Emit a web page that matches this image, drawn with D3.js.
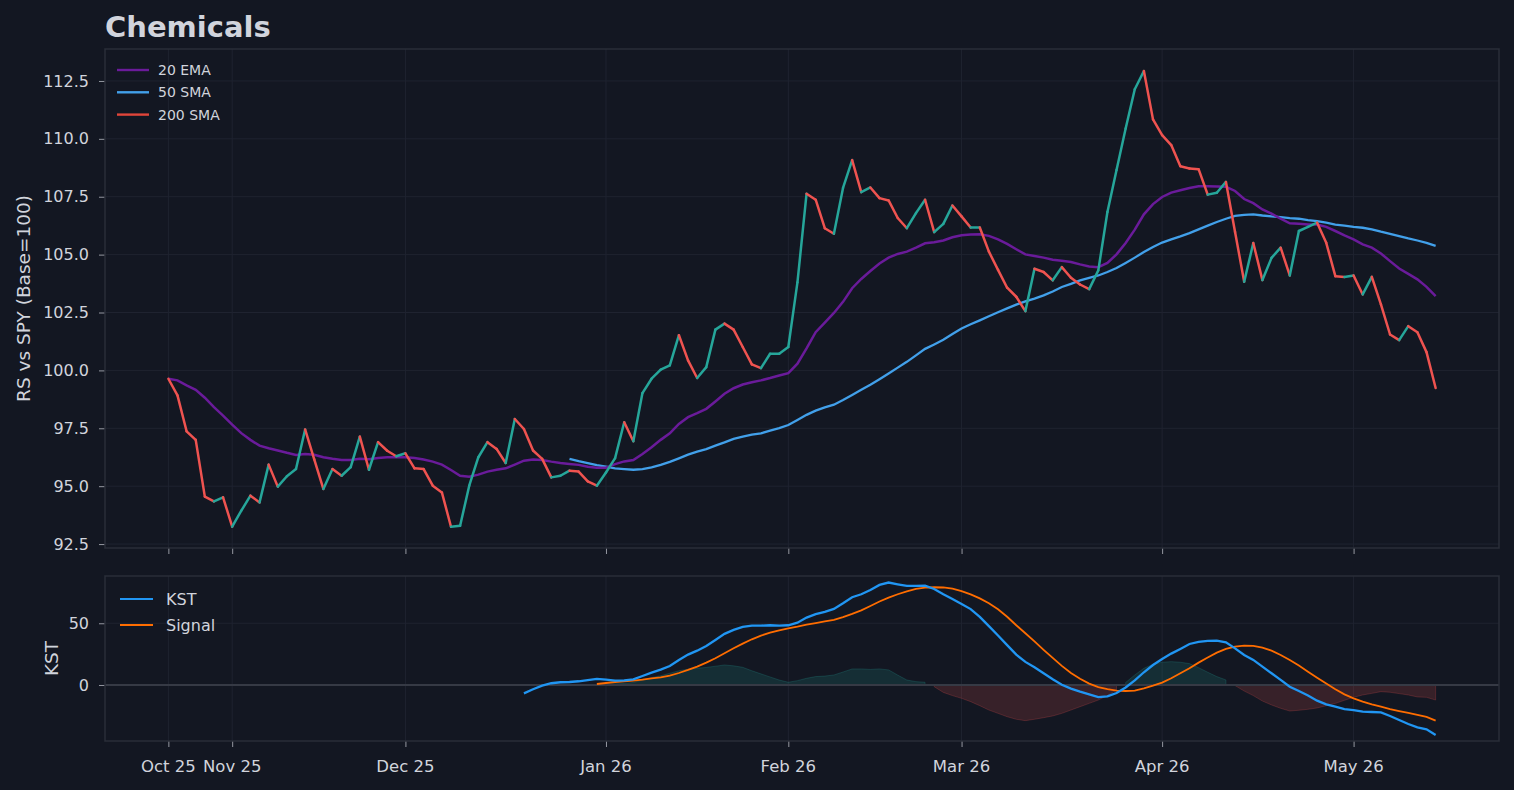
<!DOCTYPE html>
<html>
<head>
<meta charset="utf-8">
<script src="https://cdn.jsdelivr.net/npm/d3@7"></script>
<style>
  html, body { margin: 0; padding: 0; background: #131722; }
  svg { display: block; font-family: "DejaVu Sans", sans-serif; }
</style>
</head>
<body>
<div id="chart"></div>
<script>
// Relative strength vs SPY, one value per trading day (index 0 = first bar)
const rs = [
  99.64, 98.92, 97.37, 97.0, 94.55, 94.34, 94.52, 93.25, 93.94, 94.59,
  94.3, 95.93, 94.98, 95.43, 95.74, 97.45, 96.16, 94.88, 95.74, 95.45,
  95.82, 97.14, 95.71, 96.9, 96.53, 96.29, 96.42, 95.77, 95.74, 95.02,
  94.73, 93.25, 93.29, 95.02, 96.25, 96.9, 96.61, 96.0, 97.9, 97.47,
  96.54, 96.18, 95.38, 95.45, 95.67, 95.63, 95.21, 95.02, 95.59, 96.21,
  97.76, 96.94, 99.02, 99.64, 100.03, 100.22, 101.52, 100.43, 99.67, 100.14,
  101.76, 102.02, 101.76, 101.01, 100.26, 100.1, 100.72, 100.72, 101.01, 103.8,
  107.63, 107.37, 106.14, 105.9, 107.88, 109.08, 107.7, 107.9, 107.44, 107.34,
  106.58, 106.14, 106.79, 107.37, 105.97, 106.33, 107.12, 106.65, 106.17, 106.17,
  105.13, 104.34, 103.57, 103.18, 102.56, 104.39, 104.25, 103.89, 104.46, 104.0,
  103.71, 103.51, 104.32, 106.84, 108.65, 110.45, 112.14, 112.93, 110.84, 110.16,
  109.73, 108.82, 108.72, 108.69, 107.59, 107.67, 108.14, 105.98, 103.83, 105.5,
  103.9, 104.86, 105.3, 104.1, 106.02, 106.2, 106.38, 105.51, 104.07, 104.03,
  104.1, 103.28, 104.04, 102.85, 101.55, 101.31, 101.91, 101.65, 100.79, 99.24
];

const ema20 = [
  99.64, 99.57, 99.35, 99.16, 98.82, 98.41, 98.05, 97.66, 97.29, 97.0,
  96.75, 96.64, 96.54, 96.44, 96.35, 96.39, 96.36, 96.25, 96.18, 96.13,
  96.13, 96.18, 96.16, 96.22, 96.25, 96.25, 96.25, 96.22, 96.15, 96.06,
  95.93, 95.7, 95.45, 95.41, 95.5, 95.63, 95.71, 95.77, 95.93, 96.1,
  96.15, 96.13, 96.06, 96.0, 95.96, 95.92, 95.84, 95.8, 95.8, 95.95,
  96.07, 96.13, 96.39, 96.68, 97.0, 97.28, 97.69, 97.98, 98.15, 98.34,
  98.66, 98.99, 99.23, 99.39, 99.49, 99.57, 99.67, 99.78, 99.88, 100.29,
  100.95, 101.65, 102.06, 102.48, 102.96, 103.55, 103.95, 104.29, 104.62, 104.87,
  105.03, 105.13, 105.3, 105.49, 105.53, 105.61, 105.75, 105.84, 105.87, 105.88,
  105.81, 105.66, 105.46, 105.23, 105.01, 104.94, 104.87, 104.78, 104.74, 104.68,
  104.58, 104.49, 104.46, 104.64, 105.01, 105.5, 106.08, 106.74, 107.18, 107.49,
  107.68, 107.78, 107.88, 107.95, 107.95, 107.94, 107.93, 107.75, 107.4, 107.22,
  106.95, 106.77, 106.55, 106.35, 106.33, 106.3, 106.3, 106.2, 106.02, 105.83,
  105.66, 105.44, 105.3, 105.05, 104.72, 104.4, 104.17, 103.93, 103.61, 103.21
];

// 50 SMA starts at bar 44
const sma50Start = 44;
const sma50 = [
  96.18, 96.08, 96.0, 95.91, 95.84, 95.77, 95.74, 95.71, 95.74, 95.81,
  95.92, 96.05, 96.2, 96.36, 96.49, 96.6, 96.75, 96.89, 97.04, 97.14,
  97.23, 97.28, 97.4, 97.51, 97.64, 97.86, 98.08, 98.26, 98.4, 98.52,
  98.72, 98.94, 99.16, 99.38, 99.62, 99.87, 100.12, 100.37, 100.65, 100.93,
  101.12, 101.32, 101.57, 101.81, 101.99, 102.16, 102.34, 102.51, 102.68, 102.84,
  102.98, 103.1, 103.24, 103.41, 103.6, 103.74, 103.89, 104.0, 104.1, 104.25,
  104.42, 104.64, 104.87, 105.11, 105.33, 105.52, 105.66, 105.79, 105.93, 106.09,
  106.25, 106.41, 106.55, 106.67, 106.72, 106.74, 106.69, 106.65, 106.62, 106.58,
  106.55, 106.49, 106.45, 106.38, 106.3, 106.25, 106.2, 106.16, 106.09, 105.99,
  105.9, 105.8, 105.7, 105.61, 105.51, 105.38
];

// KST starts at bar 39
const kstStart = 39;
const kst = [
  -6.8, -3.5, -0.5, 1.4, 2.2, 2.4, 3.0, 4.0, 4.9, 4.3,
  3.5, 3.8, 4.6, 7.3, 10.0, 12.4, 15.4, 20.3, 24.6, 27.8,
  31.6, 36.5, 41.4, 44.6, 47.0, 48.1, 48.1, 48.4, 48.1, 48.4,
  50.5, 54.6, 57.4, 59.3, 61.6, 66.2, 71.1, 73.5, 77.0, 81.1,
  83.0, 81.6, 80.3, 80.3, 80.5, 77.8, 73.5, 69.6, 65.7, 61.5,
  55.2, 47.7, 40.1, 32.3, 24.6, 18.7, 14.3, 9.5, 4.6, 0.2,
  -3.0, -5.4, -7.6, -9.8, -9.3, -6.5, -2.0, 3.8, 10.3, 16.2,
  21.1, 25.4, 29.2, 33.2, 34.9, 35.7, 35.9, 34.6, 29.7, 24.3,
  20.3, 14.9, 9.5, 4.1, -1.4, -4.9, -8.6, -12.7, -15.7, -17.6,
  -19.5, -20.3, -21.6, -21.9, -22.2, -25.1, -28.4, -31.6, -34.3, -35.9,
  -40.5
];

// Signal line and histogram start at bar 47
const sigStart = 47;
const signal = [
  0.8, 1.6, 2.4, 3.0, 3.5, 4.3, 5.4, 6.2, 7.6, 9.7,
  12.2, 14.9, 18.1, 21.6, 25.7, 29.7, 33.5, 37.0, 40.0, 42.4,
  44.3, 45.9, 47.3, 48.9, 50.2, 51.5, 52.7, 54.9, 57.6, 60.5,
  64.0, 67.6, 70.8, 73.5, 75.9, 77.8, 78.9, 79.2, 79.0, 78.0,
  76.0, 73.4, 70.2, 66.2, 61.3, 55.3, 48.4, 41.9, 35.3, 28.5,
  21.9, 15.5, 9.7, 5.1, 1.1, -1.8, -3.4, -4.5, -4.9, -4.5,
  -2.7, -0.5, 1.9, 5.4, 9.5, 13.5, 18.1, 22.2, 26.2, 29.2,
  31.1, 31.9, 31.6, 30.3, 27.8, 24.3, 20.3, 15.7, 10.8, 5.9,
  1.1, -3.5, -7.6, -10.8, -13.5, -15.7, -17.6, -19.5, -21.1, -22.7,
  -24.3, -25.9, -28.9
];

const hist = [
  0.6, 0.8, 1.0, 1.2, 2.0, 4.0, 6.0, 7.5, 9.5, 11.5,
  12.8, 13.5, 14.2, 15.2, 16.2, 15.5, 14.3, 11.5, 9.0, 6.5,
  4.0, 2.2, 3.5, 5.4, 6.8, 7.2, 8.1, 10.5, 13.0, 13.0,
  12.6, 13.0, 12.2, 8.0, 4.0, 2.7, 2.2, -1.4, -6.0, -8.6,
  -10.8, -13.5, -16.8, -20.3, -23.0, -25.7, -27.8, -28.9, -27.8, -26.5,
  -25.1, -23.0, -20.3, -17.6, -14.9, -12.2, -8.6, -4.0, 2.0, 8.1,
  13.5, 16.8, 18.4, 18.9, 18.4, 17.3, 14.0, 10.3, 6.8, 4.1,
  -0.5, -4.9, -8.6, -13.0, -16.2, -18.9, -21.1, -20.5, -19.7, -18.6,
  -16.8, -14.9, -12.4, -10.0, -8.1, -6.8, -5.4, -5.9, -7.0, -8.1,
  -9.7, -10.0, -12.2
];

// first trading bar of each month
const tickIdx = [0, 7, 26, 48, 68, 87, 109, 130];
const tickLabels = ["Oct 25", "Nov 25", "Dec 25", "Jan 26", "Feb 26", "Mar 26", "Apr 26", "May 26"];

const rsTicks = [92.5, 95.0, 97.5, 100.0, 102.5, 105.0, 107.5, 110.0, 112.5];
const kstTicks = [0, 50];

// ---- layout ----
const width = 1514, height = 790;
const left = 105, right = 1499;
const top1 = 49, bot1 = 548;
const top2 = 576, bot2 = 741;

const bg = "#131722";
const gridColor = "#1f2330";
const frameColor = "#2a2e39";
const textColor = "#d1d4dc";
const upColor = "#26a69a";
const downColor = "#ef5350";

const svg = d3.select("#chart").append("svg")
  .attr("width", width)
  .attr("height", height)
  .style("background", bg);

const x = d3.scaleLinear().domain([-6.95, 145.95]).range([left, right]);
const y1 = d3.scaleLinear().domain([92.33, 113.88]).range([bot1, top1]);
const y2 = d3.scaleLinear().domain([-45.4, 88.3]).range([bot2, top2]);

// title
svg.append("text")
  .attr("x", left)
  .attr("y", 37)
  .attr("fill", textColor)
  .attr("font-size", 29)
  .attr("font-weight", "bold")
  .text("Chemicals");

function panel(y, yTicks, fmt, top, bot) {
  const g = svg.append("g");
  // grid
  g.selectAll(".gy").data(yTicks).join("line")
    .attr("x1", left).attr("x2", right)
    .attr("y1", d => y(d)).attr("y2", d => y(d))
    .attr("stroke", gridColor).attr("stroke-width", 1);
  g.selectAll(".gx").data(tickIdx).join("line")
    .attr("x1", d => x(d)).attr("x2", d => x(d))
    .attr("y1", top).attr("y2", bot)
    .attr("stroke", gridColor).attr("stroke-width", 1);
  // y axis
  const ay = svg.append("g")
    .attr("transform", `translate(${left},0)`)
    .call(d3.axisLeft(y).tickValues(yTicks).tickFormat(fmt).tickSize(6).tickPadding(10));
  ay.select(".domain").remove();
  ay.selectAll(".tick line").attr("stroke", "#9598a1");
  ay.selectAll(".tick text").attr("fill", textColor).attr("font-size", 16)
    .attr("font-family", "DejaVu Sans");
  // x tick marks
  const ax = svg.append("g")
    .attr("transform", `translate(0,${bot})`)
    .call(d3.axisBottom(x).tickValues(tickIdx).tickFormat("").tickSize(6));
  ax.select(".domain").remove();
  ax.selectAll(".tick line").attr("stroke", "#9598a1");
  return g;
}

panel(y1, rsTicks, d3.format(".1f"), top1, bot1);
panel(y2, kstTicks, d3.format("d"), top2, bot2);

// x labels under lower panel
svg.append("g").selectAll("text").data(tickIdx).join("text")
  .attr("x", d => x(d))
  .attr("y", 772)
  .attr("text-anchor", "middle")
  .attr("fill", textColor)
  .attr("font-size", 16.5)
  .text((d, i) => tickLabels[i]);

// axis titles
svg.append("text")
  .attr("transform", `translate(30,${(top1 + bot1) / 2}) rotate(-90)`)
  .attr("text-anchor", "middle")
  .attr("fill", textColor)
  .attr("font-size", 18.5)
  .text("RS vs SPY (Base=100)");

svg.append("text")
  .attr("transform", `translate(58,${(top2 + bot2) / 2}) rotate(-90)`)
  .attr("text-anchor", "middle")
  .attr("fill", textColor)
  .attr("font-size", 18.5)
  .text("KST");

// ---- top panel lines ----
svg.append("clipPath").attr("id", "c1")
  .append("rect").attr("x", left).attr("y", top1).attr("width", right - left).attr("height", bot1 - top1);

const g1 = svg.append("g").attr("clip-path", "url(#c1)");

const lineTop = d3.line().x(d => x(d[0])).y(d => y1(d[1]));

g1.append("path")
  .datum(sma50.map((v, i) => [i + sma50Start, v]))
  .attr("d", lineTop)
  .attr("fill", "none")
  .attr("stroke", "#42a0ea")
  .attr("stroke-width", 2.3);

g1.append("path")
  .datum(ema20.map((v, i) => [i, v]))
  .attr("d", lineTop)
  .attr("fill", "none")
  .attr("stroke", "#6a1b9a")
  .attr("stroke-width", 2.5);

// RS colored by direction, one segment per bar
const segs = d3.range(rs.length - 1).map(i => ({
  pts: [[i, rs[i]], [i + 1, rs[i + 1]]],
  up: rs[i + 1] >= rs[i]
}));
g1.selectAll(".seg").data(segs).join("path")
  .attr("d", d => lineTop(d.pts))
  .attr("fill", "none")
  .attr("stroke", d => d.up ? upColor : downColor)
  .attr("stroke-width", 2.5)
  .attr("stroke-linecap", "round");

// ---- bottom panel ----
const g2 = svg.append("g");

const histPts = hist.map((v, i) => [i + sigStart, v]);
const areaPos = d3.area()
  .defined(d => d[1] >= 0)
  .x(d => x(d[0])).y0(y2(0)).y1(d => y2(d[1]));
const areaNeg = d3.area()
  .defined(d => d[1] < 0)
  .x(d => x(d[0])).y0(y2(0)).y1(d => y2(d[1]));

g2.append("path").datum(histPts).attr("d", areaPos)
  .attr("fill", "rgba(38,166,154,0.16)")
  .attr("stroke", "rgba(38,166,154,0.22)")
  .attr("stroke-width", 1);
g2.append("path").datum(histPts).attr("d", areaNeg)
  .attr("fill", "rgba(239,83,80,0.17)")
  .attr("stroke", "rgba(239,83,80,0.22)")
  .attr("stroke-width", 1);

// zero line
g2.append("line")
  .attr("x1", left).attr("x2", right)
  .attr("y1", y2(0)).attr("y2", y2(0))
  .attr("stroke", "#363a45").attr("stroke-width", 2);

const lineBot = d3.line().x(d => x(d[0])).y(d => y2(d[1]));

g2.append("path")
  .datum(signal.map((v, i) => [i + sigStart, v]))
  .attr("d", lineBot)
  .attr("fill", "none")
  .attr("stroke", "#ff6d00")
  .attr("stroke-width", 1.8);

g2.append("path")
  .datum(kst.map((v, i) => [i + kstStart, v]))
  .attr("d", lineBot)
  .attr("fill", "none")
  .attr("stroke", "#2196f3")
  .attr("stroke-width", 2.3);

// panel frames
[[top1, bot1], [top2, bot2]].forEach(([t, b]) => {
  svg.append("rect")
    .attr("x", left).attr("y", t)
    .attr("width", right - left).attr("height", b - t)
    .attr("fill", "none")
    .attr("stroke", frameColor)
    .attr("stroke-width", 1.5);
});

// ---- legends ----
const legTop = [
  { name: "20 EMA", color: "#6a1b9a" },
  { name: "50 SMA", color: "#42a0ea" },
  { name: "200 SMA", color: "#e0453a" }
];
const lt = svg.append("g").attr("transform", "translate(117,70)");
legTop.forEach((d, i) => {
  lt.append("line")
    .attr("x1", 0).attr("x2", 32)
    .attr("y1", i * 22.3).attr("y2", i * 22.3)
    .attr("stroke", d.color).attr("stroke-width", 2.4);
  lt.append("text")
    .attr("x", 41).attr("y", i * 22.3)
    .attr("dy", "0.35em")
    .attr("fill", textColor)
    .attr("font-size", 14)
    .text(d.name);
});

const legBot = [
  { name: "KST", color: "#2196f3" },
  { name: "Signal", color: "#ff6d00" }
];
const lb = svg.append("g").attr("transform", "translate(120,599)");
legBot.forEach((d, i) => {
  lb.append("line")
    .attr("x1", 0).attr("x2", 33)
    .attr("y1", i * 26).attr("y2", i * 26)
    .attr("stroke", d.color).attr("stroke-width", 2);
  lb.append("text")
    .attr("x", 46).attr("y", i * 26)
    .attr("dy", "0.35em")
    .attr("fill", textColor)
    .attr("font-size", 16)
    .text(d.name);
});
</script>
</body>
</html>
